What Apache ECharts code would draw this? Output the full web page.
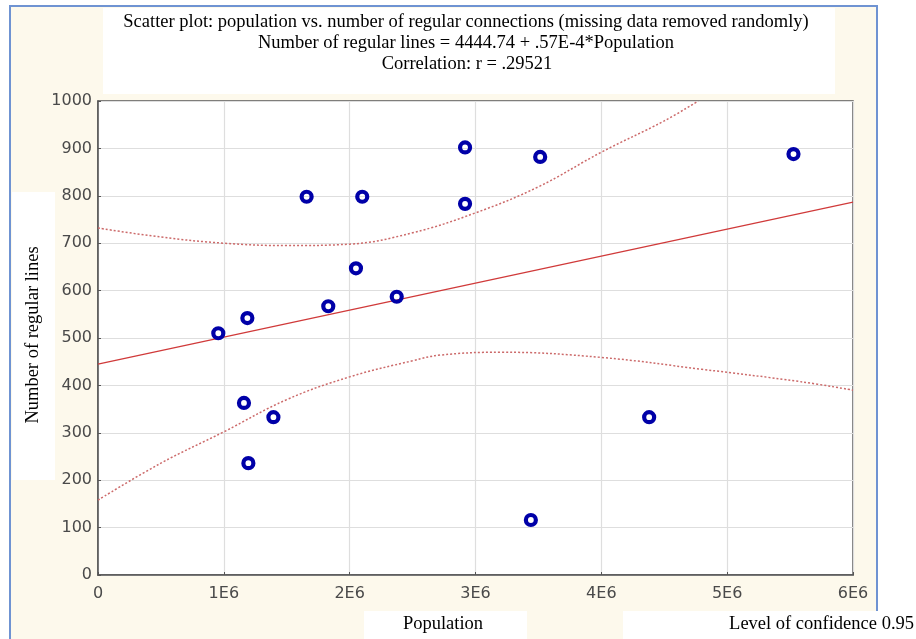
<!DOCTYPE html>
<html>
<head>
<meta charset="utf-8">
<script src="https://cdn.jsdelivr.net/npm/echarts@6/dist/echarts.min.js"></script>
<style>
html,body{margin:0;padding:0;background:#fff;}
#c{width:916px;height:639px;}
</style>
</head>
<body>
<div id="c"></div>
<script>
// Data (population in millions, i.e. units of 1E6)
const population = [0.956, 1.187, 1.16, 1.195, 1.394, 1.658, 1.83, 2.05, 2.10, 2.374, 2.917, 2.917, 3.514, 3.44, 4.38, 5.527];
const regularLines = [510, 542, 363, 236, 333, 798, 567, 647, 798, 587, 902, 783, 882, 116, 333, 888];

// Regression line endpoints
const regX = [0, 6];
const regY = [444.74, 786.74];

// Confidence band (0.95)
const upperX = [0, 0.5, 1.0, 1.5, 2.0, 2.5, 3.0, 3.5, 4.0, 4.5, 4.77];
const upperY = [732, 713, 700, 695, 698, 722, 764, 819, 892, 958, 1000];
const lowerX = [0, 0.5, 1.0, 1.5, 2.0, 2.5, 2.72, 3.2, 4.0, 4.8, 5.58, 6.0];
const lowerY = [158, 236, 302, 370, 418, 452, 464, 470, 459, 434, 408, 390];

const xTicks = [0, 1, 2, 3, 4, 5, 6];
const yTicks = [0, 100, 200, 300, 400, 500, 600, 700, 800, 900, 1000];

const titleLines = [
  'Scatter plot: population vs. number of regular connections (missing data removed randomly)',
  'Number of regular lines = 4444.74 + .57E-4*Population',
  'Correlation: r = .29521'
];
const yName = 'Number of regular lines';
const xName = 'Population';
const confText = 'Level of confidence 0.95';

const zip = (a, b) => a.map((v, i) => [v, b[i]]);

const chart = echarts.init(document.getElementById('c'), null, {renderer: 'canvas'});
const serif = '"Liberation Serif", "Times New Roman", serif';
const sans = '"DejaVu Sans", Verdana, sans-serif';
const tf = '18.5px ' + serif;

chart.setOption({
  animation: false,
  backgroundColor: '#ffffff',
  graphic: [
    // frame with cream background
    {type: 'rect', z: -10, silent: true, shape: {x: 10, y: 6, width: 867, height: 640},
     style: {fill: '#fdf9ec', stroke: '#6f93d2', lineWidth: 2}},
    // white label boxes
    {type: 'rect', z: -9, silent: true, shape: {x: 103, y: 8, width: 732, height: 86}, style: {fill: '#ffffff'}},
    {type: 'rect', z: -9, silent: true, shape: {x: 12, y: 192, width: 43, height: 288}, style: {fill: '#ffffff'}},
    {type: 'rect', z: -9, silent: true, shape: {x: 364, y: 611, width: 163, height: 30}, style: {fill: '#ffffff'}},
    {type: 'rect', z: -9, silent: true, shape: {x: 623, y: 611, width: 293, height: 30}, style: {fill: '#ffffff'}},
    // titles
    {type: 'text', silent: true, x: 466, y: 22, style: {text: titleLines[0], font: tf, fill: '#000', textAlign: 'center', textVerticalAlign: 'middle'}},
    {type: 'text', silent: true, x: 466, y: 43, style: {text: titleLines[1], font: tf, fill: '#000', textAlign: 'center', textVerticalAlign: 'middle'}},
    {type: 'text', silent: true, x: 467, y: 64, style: {text: titleLines[2], font: tf, fill: '#000', textAlign: 'center', textVerticalAlign: 'middle'}},
    // axis names
    {type: 'text', silent: true, x: 33, y: 335, rotation: Math.PI / 2, style: {text: yName, font: tf, fill: '#000', textAlign: 'center', textVerticalAlign: 'middle'}},
    {type: 'text', silent: true, x: 443, y: 624, style: {text: xName, font: tf, fill: '#000', textAlign: 'center', textVerticalAlign: 'middle'}},
    {type: 'text', silent: true, x: 914, y: 624, style: {text: confText, font: tf, fill: '#000', textAlign: 'right', textVerticalAlign: 'middle'}}
  ],
  grid: {left: 98, top: 101, width: 755, height: 474, show: true, backgroundColor: '#ffffff', borderColor: '#555', borderWidth: 1.5},
  xAxis: {
    type: 'value', min: xTicks[0], max: xTicks[xTicks.length - 1], interval: 1,
    axisLine: {show: true, lineStyle: {color: '#555', width: 1.5}},
    axisTick: {show: true, inside: true, length: 3, lineStyle: {color: '#555'}},
    splitLine: {show: true, lineStyle: {color: '#dedede', width: 1.2}},
    axisLabel: {color: '#4a4a4a', fontFamily: sans, fontSize: 16, margin: 11,
      formatter: v => v === 0 ? '0' : v + 'E6'}
  },
  yAxis: {
    type: 'value', min: yTicks[0], max: yTicks[yTicks.length - 1], interval: 100,
    axisLine: {show: true, lineStyle: {color: '#555', width: 1.5}},
    axisTick: {show: true, inside: true, length: 3, lineStyle: {color: '#555'}},
    splitLine: {show: true, lineStyle: {color: '#dedede', width: 1.2}},
    axisLabel: {color: '#4a4a4a', fontFamily: sans, fontSize: 16, margin: 6,
      formatter: v => String(v)}
  },
  series: [
    {type: 'line', data: zip(regX, regY), symbol: 'none', lineStyle: {color: '#d03a3a', width: 1.2}, z: 2},
    {type: 'line', data: zip(upperX, upperY), symbol: 'none', smooth: 0.4, lineStyle: {color: '#cc6a6a', width: 1.5, type: [2, 2]}, z: 2},
    {type: 'line', data: zip(lowerX, lowerY), symbol: 'none', smooth: 0.4, lineStyle: {color: '#cc6a6a', width: 1.5, type: [2, 2]}, z: 2},
    {type: 'scatter', data: zip(population, regularLines), symbol: 'circle', symbolSize: 10,
     itemStyle: {color: 'rgba(255,255,255,0)', borderColor: '#0000a8', borderWidth: 4.2, opacity: 1}, z: 5}
  ]
});
</script>
</body>
</html>
